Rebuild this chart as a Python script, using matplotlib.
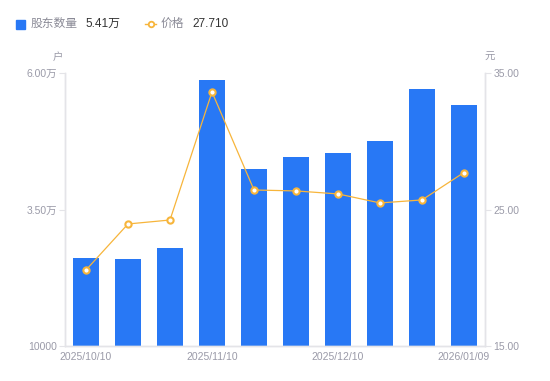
import matplotlib
matplotlib.use('Agg')
import matplotlib.pyplot as plt
from matplotlib.lines import Line2D
from matplotlib.ticker import FixedLocator, FuncFormatter

plt.rcParams['font.family'] = ['Liberation Sans', 'Noto Sans CJK SC', 'DejaVu Sans']

# data
dates = ['2025/10/10', '2025/10/20', '2025/10/31', '2025/11/10', '2025/11/20',
         '2025/11/28', '2025/12/10', '2025/12/19', '2025/12/31', '2026/01/09']
holders = [26100, 25900, 27950, 58700, 42400, 44600, 45400, 47600, 57100, 54100]
price = [20.57, 23.94, 24.23, 33.61, 26.43, 26.36, 26.14, 25.48, 25.70, 27.71]
label_idx = [0, 3, 6, 9]

bar_color = '#2878f5'
line_color = '#f7b53b'
tick_color = '#9a9aa8'
axis_color = '#e4e4e8'

fig = plt.figure(figsize=(5.5, 3.81), dpi=100)
ax = fig.add_axes([65 / 550, 1 - 346 / 381, 420 / 550, 273 / 381])
ax2 = ax.twinx()

x = list(range(len(dates)))
ax.bar(x, holders, width=0.6, color=bar_color, zorder=2)
ax.set_xlim(-0.5, len(dates) - 0.5)
ax.set_ylim(10000, 60000)

ax2.plot(x, price, color=line_color, lw=0.9, marker='o', ms=4.5,
         mfc='white', mec=line_color, mew=1.5, zorder=3)
ax2.set_ylim(15, 35)


def wan(v, pos):
    if v >= 20000:
        return f'{v / 10000:.2f}万'
    return f'{int(v)}'


ax.yaxis.set_major_locator(FixedLocator([10000, 35000, 60000]))
ax.yaxis.set_major_formatter(FuncFormatter(wan))
ax2.yaxis.set_major_locator(FixedLocator([15, 25, 35]))
ax2.yaxis.set_major_formatter(FuncFormatter(lambda v, p: f'{v:.2f}'))

ax.set_xticks(label_idx)
ax.set_xticklabels([dates[i] for i in label_idx])

for a in (ax, ax2):
    for s in a.spines.values():
        s.set_color(axis_color)
        s.set_linewidth(1)
    a.spines['top'].set_visible(False)
    a.tick_params(colors=tick_color, labelsize=7.5, length=4, width=0.8,
                  color=axis_color, pad=2, direction='out')
ax.tick_params(axis='x', length=0, pad=4)

fig.text(58 / 550, 1 - 57 / 381, '户', color=tick_color, fontsize=7.5,
         ha='center', va='center')
fig.text(490 / 550, 1 - 57 / 381, '元', color=tick_color, fontsize=7.5,
         ha='center', va='center')

# legend row
ly = 1 - 24 / 381
fig.patches.append(plt.Rectangle((16 / 550, 1 - 29 / 381), 9 / 550, 9 / 381,
                                 transform=fig.transFigure, color=bar_color,
                                 figure=fig))
fig.text(31 / 550, ly, '股东数量', color='#8a8a96', fontsize=8.5, va='center')
fig.text(85 / 550, ly, '5.41万', color='#333333', fontsize=8.5, va='center')
fig.lines.append(Line2D([145 / 550, 156 / 550], [ly, ly], transform=fig.transFigure,
                        color=line_color, lw=1, figure=fig))
fig.lines.append(Line2D([150.5 / 550], [ly], transform=fig.transFigure,
                        color=line_color, marker='o', ms=4, mfc='white',
                        mec=line_color, mew=1.3, figure=fig))
fig.text(161 / 550, ly, '价格', color='#8a8a96', fontsize=8.5, va='center')
fig.text(192 / 550, ly, '27.710', color='#333333', fontsize=8.5, va='center')

fig.savefig('out.png', dpi=100)
